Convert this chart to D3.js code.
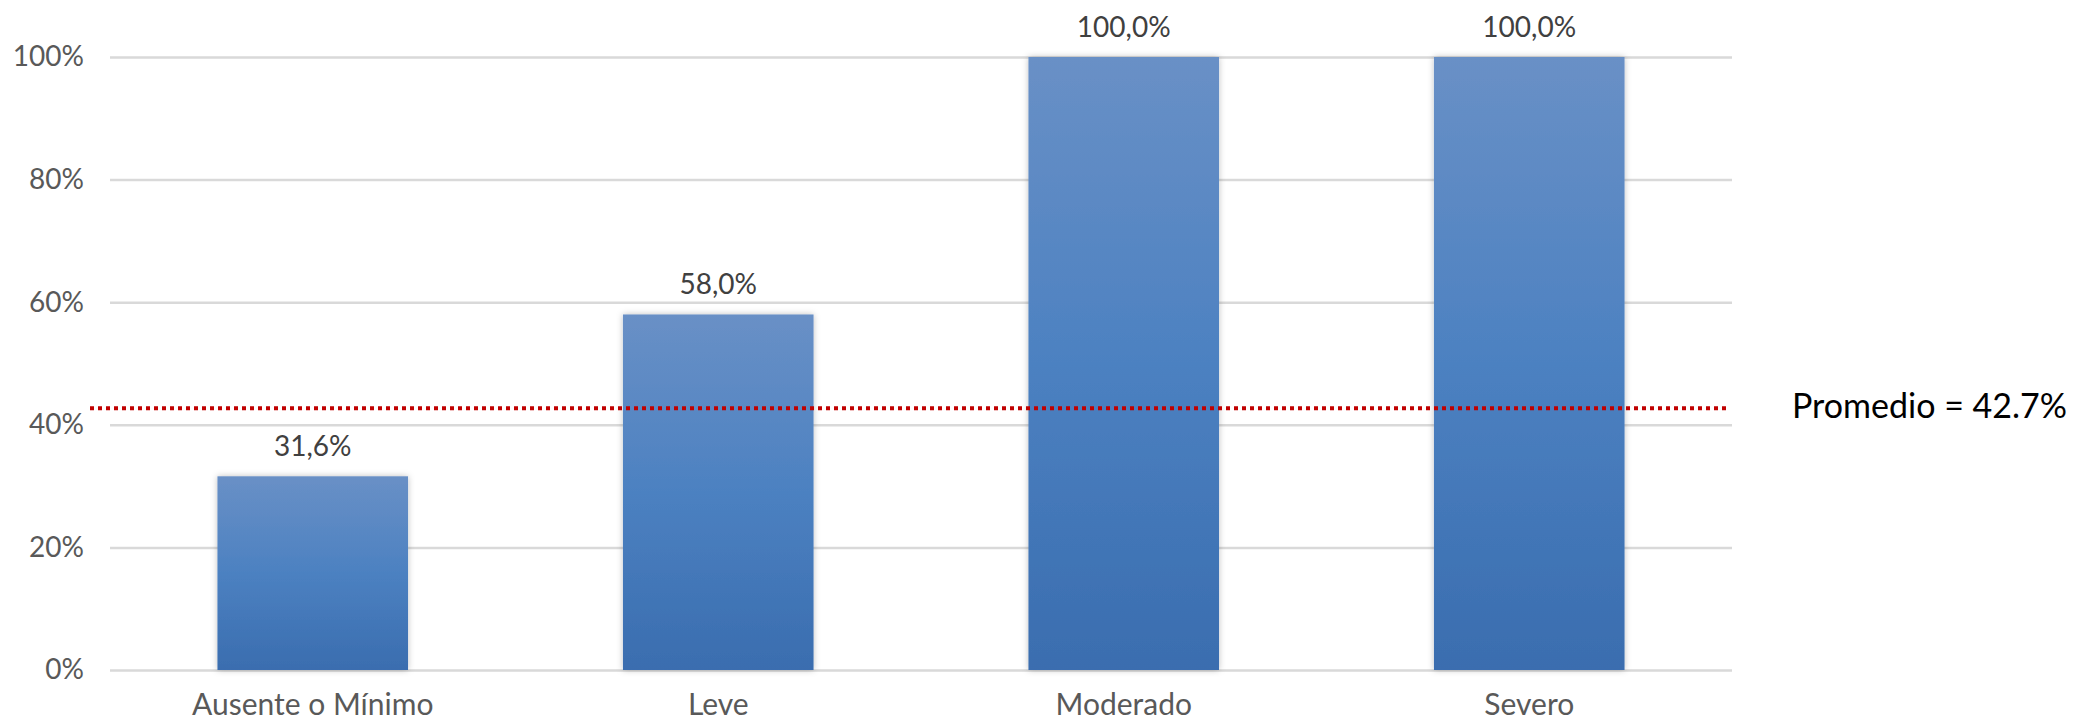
<!DOCTYPE html>
<html>
<head>
<meta charset="utf-8">
<script src="https://cdn.jsdelivr.net/npm/d3@7"></script>
<style>
    body { margin: 0; background: #fff; }
    svg { display: block; font-family: Lato, "Open Sans", sans-serif; }
</style>
</head>
<body>
<svg id="chart" width="2079" height="724"></svg>
<script>
// data
const categories = ["Ausente o Mínimo", "Leve", "Moderado", "Severo"]
const values = [0.316, 0.58, 1.0, 1.0]
const valueLabels = ["31,6%", "58,0%", "100,0%", "100,0%"]
const yTicks = [0, 0.2, 0.4, 0.6, 0.8, 1.0]
const average = 0.427
const averageLabel = "Promedio = 42.7%"

const width = 2079
const height = 724
const margin = {top: 57, left: 110, right: 347, bottom: 54}

let svg = d3.select("#chart")

let x = d3.scaleBand()
    .domain(categories)
    .range([margin.left, width - margin.right])
    .paddingInner(0.53)
    .paddingOuter(0.265)

let y = d3.scaleLinear()
    .domain([0, 1])
    .range([height - margin.bottom, margin.top])

// gradient + soft shadow for bars
let defs = svg.append("defs")
let grad = defs.append("linearGradient")
    .attr("id", "barGrad")
    .attr("x1", 0).attr("y1", 0)
    .attr("x2", 0).attr("y2", 1)
grad.append("stop").attr("offset", "0%").attr("stop-color", "#6990c6")
grad.append("stop").attr("offset", "50%").attr("stop-color", "#4c81c1")
grad.append("stop").attr("offset", "100%").attr("stop-color", "#3a6daf")

let shadow = defs.append("filter")
    .attr("id", "shadow")
    .attr("x", "-10%").attr("y", "-5%")
    .attr("width", "120%").attr("height", "110%")
shadow.append("feDropShadow")
    .attr("dx", 0).attr("dy", 0)
    .attr("stdDeviation", 3)
    .attr("flood-color", "#000")
    .attr("flood-opacity", 0.25)

// gridlines + y labels
let yAxis = d3.axisLeft(y)
    .tickValues(yTicks)
    .tickSize(-(width - margin.left - margin.right))
    .tickPadding(26)
    .tickFormat(d3.format(".0%"))

let gAxis = svg.append("g")
    .attr("transform", `translate(${margin.left},0)`)
    .call(yAxis)
gAxis.select(".domain").remove()
gAxis.selectAll(".tick line")
    .attr("stroke", "#d9d9d9")
    .attr("stroke-width", 2.5)
gAxis.selectAll(".tick text")
    .attr("fill", "#595959")
    .attr("font-size", "28px")
    .attr("font-family", "Lato, sans-serif")

// bars
svg.selectAll(".bar")
    .data(values)
    .join("rect")
    .classed("bar", true)
    .attr("x", (d, i) => x(categories[i]))
    .attr("y", d => y(d))
    .attr("width", x.bandwidth())
    .attr("height", d => y(0) - y(d))
    .attr("fill", "url(#barGrad)")
    .attr("filter", "url(#shadow)")

// value labels
svg.selectAll(".value-label")
    .data(values)
    .join("text")
    .classed("value-label", true)
    .attr("x", (d, i) => x(categories[i]) + x.bandwidth() / 2)
    .attr("y", d => y(d) - 20)
    .attr("text-anchor", "middle")
    .attr("font-size", "28px")
    .attr("fill", "#404040")
    .text((d, i) => valueLabels[i])

// category labels
svg.selectAll(".cat-label")
    .data(categories)
    .join("text")
    .classed("cat-label", true)
    .attr("x", d => x(d) + x.bandwidth() / 2)
    .attr("y", height - 9)
    .attr("text-anchor", "middle")
    .attr("font-size", "30px")
    .attr("fill", "#595959")
    .text(d => d)

// average line
svg.append("line")
    .attr("x1", 90)
    .attr("x2", width - margin.right - 4)
    .attr("y1", y(average))
    .attr("y2", y(average))
    .attr("stroke", "#c00000")
    .attr("stroke-width", 4)
    .attr("stroke-dasharray", "4,4")

svg.append("text")
    .attr("x", 1792)
    .attr("y", y(average) + 10)
    .attr("font-size", "34px")
    .attr("fill", "#000")
    .text(averageLabel)
</script>
</body>
</html>
